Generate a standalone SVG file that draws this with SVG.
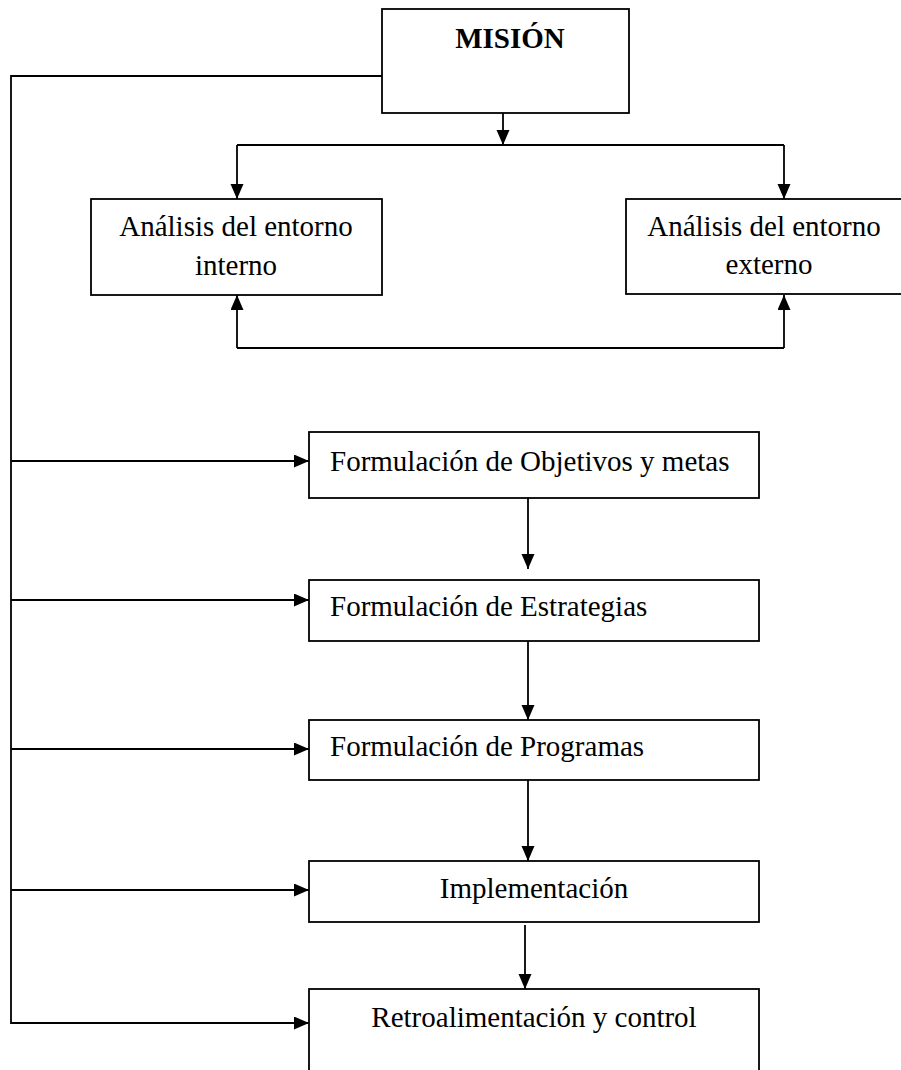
<svg xmlns="http://www.w3.org/2000/svg" width="901" height="1070" viewBox="0 0 901 1070">
  <style>
    .box { fill: #ffffff; stroke: #000000; stroke-width: 1.8; }
    .ln { fill: none; stroke: #000000; stroke-width: 1.8; }
    .t { font-family: "Liberation Serif", "Times New Roman", serif; font-size: 29px; fill: #000000; }
    .b { font-weight: bold; }
    .m { text-anchor: middle; }
  </style>
  <defs>
    <marker id="ah" markerUnits="userSpaceOnUse" markerWidth="16" markerHeight="14" refX="15" refY="6.5" orient="auto">
      <path d="M0,0 L15,6.5 L0,13 z" fill="#000000"/>
    </marker>
  </defs>
  <rect width="901" height="1070" fill="#ffffff"/>

  <g id="connectors">
    <polyline class="ln" points="382,76 11,76 11,1023 309,1023" marker-end="url(#ah)"/>
    <line class="ln" x1="11" y1="461" x2="309" y2="461" marker-end="url(#ah)"/>
    <line class="ln" x1="11" y1="600" x2="309" y2="600" marker-end="url(#ah)"/>
    <line class="ln" x1="11" y1="749" x2="309" y2="749" marker-end="url(#ah)"/>
    <line class="ln" x1="11" y1="890" x2="309" y2="890" marker-end="url(#ah)"/>
    <line class="ln" x1="503" y1="113" x2="503" y2="145" marker-end="url(#ah)"/>
    <line class="ln" x1="237" y1="145" x2="784" y2="145"/>
    <line class="ln" x1="237" y1="145" x2="237" y2="199" marker-end="url(#ah)"/>
    <line class="ln" x1="784" y1="145" x2="784" y2="199" marker-end="url(#ah)"/>
    <polyline class="ln" points="237,348 784,348"/>
    <line class="ln" x1="237" y1="348" x2="237" y2="295" marker-end="url(#ah)"/>
    <line class="ln" x1="784" y1="348" x2="784" y2="295" marker-end="url(#ah)"/>
    <line class="ln" x1="528" y1="491" x2="528" y2="569" marker-end="url(#ah)"/>
    <line class="ln" x1="528" y1="641" x2="528" y2="720" marker-end="url(#ah)"/>
    <line class="ln" x1="528" y1="780" x2="528" y2="861" marker-end="url(#ah)"/>
    <line class="ln" x1="525" y1="925" x2="525" y2="989" marker-end="url(#ah)"/>
  </g>

  <g id="mision">
    <rect class="box" x="382" y="9" width="247" height="104"/>
    <text class="t b m" x="510" y="48">MISIÓN</text>
  </g>

  <g id="interno">
    <rect class="box" x="91" y="199" width="291" height="96"/>
    <text class="t m" x="236" y="236">Análisis del entorno</text>
    <text class="t m" x="236" y="275">interno</text>
  </g>

  <g id="externo">
    <rect class="box" x="626" y="199" width="280" height="95"/>
    <text class="t m" x="764" y="236">Análisis del entorno</text>
    <text class="t m" x="769" y="274">externo</text>
  </g>

  <g id="objetivos">
    <rect class="box" x="309" y="432" width="450" height="66"/>
    <text class="t" x="330" y="471">Formulación de Objetivos y metas</text>
  </g>

  <g id="estrategias">
    <rect class="box" x="309" y="580" width="450" height="61"/>
    <text class="t" x="330" y="616">Formulación de Estrategias</text>
  </g>

  <g id="programas">
    <rect class="box" x="309" y="720" width="450" height="60"/>
    <text class="t" x="330" y="756">Formulación de Programas</text>
  </g>

  <g id="implementacion">
    <rect class="box" x="309" y="861" width="450" height="61"/>
    <text class="t m" x="534" y="898">Implementación</text>
  </g>

  <g id="retro">
    <rect class="box" x="309" y="989" width="450" height="100"/>
    <text class="t m" x="534" y="1027">Retroalimentación y control</text>
  </g>
</svg>
